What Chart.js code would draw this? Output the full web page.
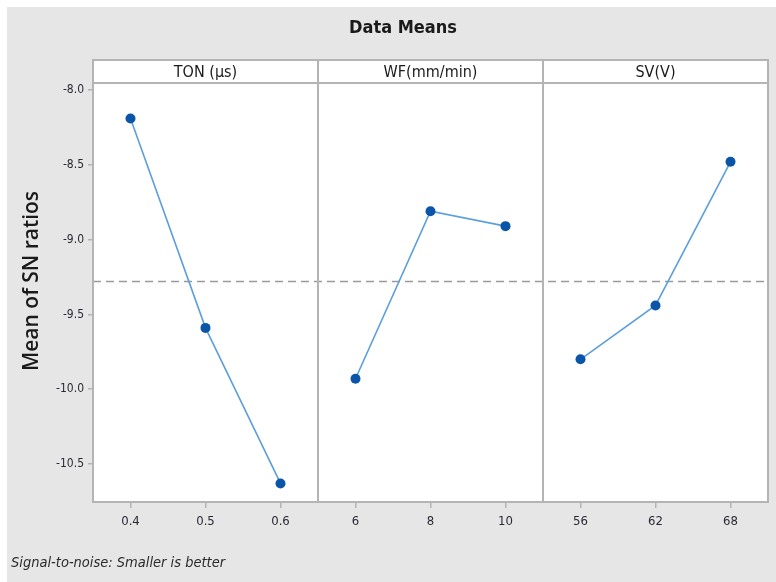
<!DOCTYPE html>
<html>
<head>
<meta charset="utf-8">
<script src="https://cdn.jsdelivr.net/npm/chart.js@4/dist/chart.umd.min.js"></script>
<style>
  html, body { margin: 0; padding: 0; background: #ffffff; }
  #wrap { width: 776px; height: 582px; }
</style>
</head>
<body>
<div id="wrap"><canvas id="c" width="776" height="582"></canvas></div>
<script>
// Main effects plot for S/N ratios (smaller is better)
const panelNames = ['TON (\u00b5s)', 'WF(mm/min)', 'SV(V)'];

const tonLevels = ['0.4', '0.5', '0.6'];
const tonMeans  = [-8.19, -9.59, -10.63];

const wfLevels = ['6', '8', '10'];
const wfMeans  = [-9.93, -8.81, -8.91];

const svLevels = ['56', '62', '68'];
const svMeans  = [-9.80, -9.44, -8.48];

const overallMean = -9.28;

const yTicks = [-8.0, -8.5, -9.0, -9.5, -10.0, -10.5];

const narrow = '"Liberation Sans Narrow", "DejaVu Sans Condensed", "Open Sans", sans-serif';

// each factor occupies three slots on a shared x axis
const factors = [
  { levels: tonLevels, means: tonMeans },
  { levels: wfLevels,  means: wfMeans },
  { levels: svLevels,  means: svMeans }
];
const xLabels = [];
factors.forEach(f => f.levels.forEach(l => xLabels.push(l)));
const nSlots = xLabels.length;

const lineColor = '#5d9fdc';
const pointColor = '#0b55a8';
const frameColor = '#b4b4b4';

const datasets = factors.map((f, i) => ({
  data: f.means.map((v, j) => ({ x: i * 3 + j + 1, y: v })),
  borderColor: lineColor,
  borderWidth: 1.6,
  pointBackgroundColor: pointColor,
  pointBorderColor: pointColor,
  pointRadius: 5,
  pointBorderWidth: 0,
  tension: 0
}));

datasets.push({
  data: [{ x: 0.5, y: overallMean }, { x: nSlots + 0.5, y: overallMean }],
  borderColor: '#9a9a9a',
  borderWidth: 1.5,
  borderDash: [8, 5],
  pointRadius: 0,
  order: 5
});

const decor = {
  id: 'decor',
  beforeDraw(chart) {
    const ctx = chart.ctx;
    const a = chart.chartArea;
    ctx.save();
    ctx.fillStyle = '#ffffff';
    ctx.fillRect(0, 0, chart.width, chart.height);
    ctx.fillStyle = '#e6e6e6';
    ctx.fillRect(7, 7, chart.width - 7, chart.height - 7);
    ctx.fillStyle = '#ffffff';
    ctx.fillRect(a.left, a.top, a.right - a.left, a.bottom - a.top);
    ctx.restore();
  },
  afterDraw(chart) {
    const ctx = chart.ctx;
    const a = chart.chartArea;
    const xs = chart.scales.x;
    const headTop = 60;
    ctx.save();
    // title
    ctx.fillStyle = '#1a1a1a';
    ctx.font = 'bold 18px ' + narrow;
    ctx.textAlign = 'center';
    ctx.textBaseline = 'middle';
    ctx.fillText('Data Means', 403, 28);

    // y axis title
    ctx.save();
    ctx.translate(32, 281);
    ctx.rotate(-Math.PI / 2);
    ctx.font = '600 21px "Open Sans", sans-serif';
    ctx.fillText('Mean of SN ratios', 0, 0);
    ctx.restore();

    // header strip
    ctx.fillStyle = '#ffffff';
    ctx.fillRect(a.left, headTop, a.right - a.left, a.top - headTop);
    ctx.strokeStyle = frameColor;
    ctx.lineWidth = 2;
    ctx.strokeRect(a.left, headTop, a.right - a.left, a.bottom - headTop);
    ctx.beginPath();
    ctx.moveTo(a.left, a.top);
    ctx.lineTo(a.right, a.top);
    for (let i = 1; i < factors.length; i++) {
      const px = xs.getPixelForValue(i * 3 + 0.5);
      ctx.moveTo(px, headTop);
      ctx.lineTo(px, a.bottom);
    }
    ctx.stroke();

    ctx.fillStyle = '#1a1a1a';
    ctx.font = '16px ' + narrow;
    panelNames.forEach((name, i) => {
      const cx = xs.getPixelForValue(i * 3 + 2);
      ctx.fillText(name, cx, (headTop + a.top) / 2 + 1);
    });

    // footnote
    ctx.font = 'italic 14.5px ' + narrow;
    ctx.textAlign = 'left';
    ctx.fillStyle = '#2a2a2a';
    ctx.fillText('Signal-to-noise: Smaller is better', 11, 563);
    ctx.restore();
  }
};

new Chart(document.getElementById('c'), {
  type: 'line',
  data: { datasets },
  plugins: [decor],
  options: {
    responsive: false,
    animation: false,
    layout: { padding: { left: 8, right: 8, top: 83, bottom: 0 } },
    plugins: {
      legend: { display: false },
      tooltip: { enabled: false },
      title: { display: false }
    },
    scales: {
      x: {
        type: 'linear',
        min: 0.5,
        max: nSlots + 0.5,
        afterBuildTicks(scale) {
          scale.ticks = xLabels.map((_, i) => ({ value: i + 1 }));
        },
        afterFit(scale) { scale.height = 80; },
        ticks: {
          autoSkip: false,
          maxRotation: 0,
          padding: 6,
          color: '#2a2a35',
          font: { family: narrow, size: 13 },
          callback: (v) => xLabels[Math.round(v) - 1]
        },
        grid: { drawOnChartArea: false, tickLength: 6, color: frameColor, lineWidth: 1.5 },
        border: { display: false }
      },
      y: {
        type: 'linear',
        min: -10.754,
        max: -7.953,
        afterBuildTicks(scale) {
          scale.ticks = yTicks.map(v => ({ value: v }));
        },
        afterFit(scale) { scale.width = 85; },
        ticks: {
          padding: 4,
          color: '#2a2a35',
          font: { family: narrow, size: 12 },
          callback: (v) => Number(v).toFixed(1)
        },
        grid: { drawOnChartArea: false, tickLength: 5, color: frameColor, lineWidth: 1.5 },
        border: { display: false }
      }
    }
  }
});
</script>
</body>
</html>
